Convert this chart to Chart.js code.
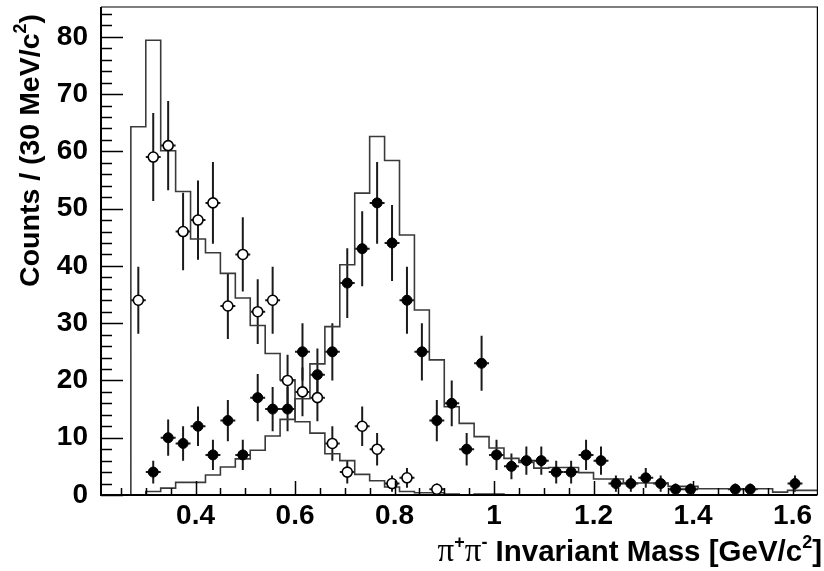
<!DOCTYPE html>
<html>
<head>
<meta charset="utf-8">
<script src="https://cdn.jsdelivr.net/npm/chart.js@4/dist/chart.umd.min.js"></script>
<style>
  html, body { margin: 0; padding: 0; background: #fff; }
  canvas { display: block; }
</style>
</head>
<body>
<canvas id="mass" width="824" height="571"></canvas>
<script>
// π+π- invariant-mass spectrum, 30 MeV/c² bins starting at 0.27 GeV/c²
const binStart = 0.27;
const binWidth = 0.03;
const xRange = [0.21, 1.65];
const yRange = [0, 85.2];
const xTickValues = [0.4, 0.6, 0.8, 1.0, 1.2, 1.4, 1.6];
const yTickValues = [0, 10, 20, 30, 40, 50, 60, 70, 80];

// measured counts per bin (null = empty bin, no marker)
const openCounts = [34, 59, 61, 46, 48, 51, 33, 42, 32, 34, 20, 18, 17, 9, 4, 12, 8, 2, 3, null, 1];
const filledCounts = [null, 4, 10, 9, 12, 7, 13, 7, 17, 15, 15, 25, 21, 25, 37, 43, 51, 44, 34, 25,
  13, 16, 8, 23, 7, 5, 6, 6, 4, 4, 7, 6, 2, 2, 3, 2, 1, 1, null, null, 1, 1, null, null, 2];

// expected distributions drawn as step histograms
const openHist = [64.3, 79.4, 60.1, 53.0, 44.7, 42.3, 38.7, 34.4, 29.6, 24.7, 20.1, 12.8, 10.8, 7.2,
  6.0, 3.6, 2.5, 1.4, 0.6, 0.4, 0.4, 0.15, 0, 0.15, 0.15];
const filledHist = [0, 0.6, 1.2, 2.2, 2.2, 3.5, 4.9, 6.3, 7.8, 10.3, 13.2, 16.8, 22.9, 29.4, 40.2,
  52.7, 62.6, 58.4, 45.4, 32.3, 23.6, 15.4, 12.5, 10.2, 8.2, 6.4, 5.7, 4.7, 4.8, 4.8, 3.9, 2.8,
  2.8, 2.1, 2.1, 2.1, 1.5, 1.5, 1.1, 1.1, 1.1, 1.1, 1.1, 0.5, 0.8, 0.8];

const SANS = "'Liberation Sans', Arial, Helvetica, sans-serif";
const SERIF = "'Liberation Serif', 'Times New Roman', serif";

// bin edges with the bin's content; stepped 'before' holds each value across its bin
function stepPoints(vals, dropToZero) {
  const pts = [{ x: binStart, y: 0 }];
  vals.forEach((v, i) => pts.push({ x: binStart + i * binWidth, y: v }));
  const end = binStart + vals.length * binWidth;
  pts.push({ x: end, y: vals[vals.length - 1] });
  if (dropToZero) pts.push({ x: end, y: 0 });
  return pts;
}

function markerPoints(counts) {
  const pts = [];
  counts.forEach((n, i) => {
    if (n !== null) pts.push({ x: binStart + (i + 0.5) * binWidth, y: n });
  });
  return pts;
}

// Poisson error bars (±√N) and half-bin horizontal bars, drawn beneath the markers
const errorBars = {
  id: 'errorBars',
  beforeDatasetsDraw(chart) {
    const { ctx, chartArea, scales: { x, y } } = chart;
    ctx.save();
    ctx.beginPath();
    ctx.rect(chartArea.left, chartArea.top, chartArea.right - chartArea.left, chartArea.bottom - chartArea.top);
    ctx.clip();
    ctx.strokeStyle = '#1a1a1a';
    ctx.lineWidth = 2;
    chart.data.datasets.forEach(ds => {
      if (!ds.isMeasured) return;
      ds.data.forEach(p => {
        const err = Math.sqrt(p.y);
        const px = x.getPixelForValue(p.x);
        const py = y.getPixelForValue(p.y);
        ctx.beginPath();
        ctx.moveTo(px, y.getPixelForValue(p.y + err));
        ctx.lineTo(px, y.getPixelForValue(Math.max(0, p.y - err)));
        ctx.moveTo(x.getPixelForValue(p.x - binWidth / 2), py);
        ctx.lineTo(x.getPixelForValue(p.x + binWidth / 2), py);
        ctx.stroke();
      });
    });
    ctx.restore();
  }
};

function drawRich(ctx, parts, x, y, align) {
  let total = 0;
  parts.forEach(p => { ctx.font = p.font; total += ctx.measureText(p.t).width; });
  let cx = align === 'right' ? x - total : x;
  parts.forEach(p => {
    ctx.font = p.font;
    ctx.fillText(p.t, cx, y + (p.dy || 0));
    cx += ctx.measureText(p.t).width;
  });
}

// frame, inward tick marks and axis titles
const frameAndTitles = {
  id: 'frameAndTitles',
  afterDraw(chart) {
    const { ctx, chartArea: a, scales: { x, y } } = chart;
    ctx.save();
    ctx.strokeStyle = '#000';
    // thin top and right edges
    ctx.lineWidth = 1.2;
    ctx.beginPath();
    ctx.moveTo(a.left, a.top); ctx.lineTo(a.right, a.top); ctx.lineTo(a.right, a.bottom);
    ctx.stroke();
    // heavier axes
    ctx.lineWidth = 2;
    ctx.beginPath();
    ctx.moveTo(a.left, a.top); ctx.lineTo(a.left, a.bottom); ctx.lineTo(a.right, a.bottom);
    ctx.stroke();

    // x ticks: minor every 0.05, major at labelled values
    ctx.lineWidth = 1.5;
    ctx.beginPath();
    for (let i = 5; i <= 33; i++) {
      const v = i * 0.05;
      if (v < xRange[0] || v > xRange[1]) continue;
      const major = xTickValues.some(t => Math.abs(t - v) < 1e-6);
      const px = Math.round(x.getPixelForValue(v)) + 0.5;
      ctx.moveTo(px, a.bottom);
      ctx.lineTo(px, a.bottom - (major ? 14 : 7));
    }
    // y ticks: minor every 2, major every 10
    for (let v = 0; v <= yRange[1]; v += 2) {
      const major = v % 10 === 0;
      const py = Math.round(y.getPixelForValue(v)) + 0.5;
      ctx.moveTo(a.left, py);
      ctx.lineTo(a.left + (major ? 22 : 11), py);
    }
    ctx.stroke();

    ctx.fillStyle = '#000';
    ctx.textBaseline = 'alphabetic';
    // x title
    const bold = '700 29.5px ' + SANS;
    const sup = '700 18px ' + SANS;
    const pi = '400 33px ' + SERIF;
    drawRich(ctx, [
      { t: 'π', font: pi },
      { t: '+', font: sup, dy: -13 },
      { t: 'π', font: pi },
      { t: '-', font: sup, dy: -13 },
      { t: ' Invariant Mass [GeV/c', font: bold },
      { t: '2', font: sup, dy: -13 },
      { t: ']', font: bold }
    ], 822, 561, 'right');

    // y title (rotated)
    const boldY = '700 28.5px ' + SANS;
    ctx.translate(39, 14);
    ctx.rotate(-Math.PI / 2);
    drawRich(ctx, [
      { t: 'Counts / (30 MeV/c', font: boldY },
      { t: '2', font: sup, dy: -13 },
      { t: ')', font: boldY }
    ], 0, 0, 'right');
    ctx.restore();
  }
};

Chart.defaults.font.family = SANS;

new Chart(document.getElementById('mass'), {
  type: 'scatter',
  data: {
    datasets: [
      {
        label: 'open', isMeasured: true, order: 0,
        data: markerPoints(openCounts),
        pointStyle: 'circle', pointRadius: 5, pointBackgroundColor: '#fff',
        pointBorderColor: '#000', pointBorderWidth: 1.6, showLine: false
      },
      {
        label: 'filled', isMeasured: true, order: 0,
        data: markerPoints(filledCounts),
        pointStyle: 'circle', pointRadius: 5, pointBackgroundColor: '#000',
        pointBorderColor: '#000', pointBorderWidth: 1, showLine: false
      },
      {
        label: 'openHist', order: 1,
        data: stepPoints(openHist, true),
        showLine: true, stepped: 'before', borderColor: '#3a3a3a', borderWidth: 1.6,
        pointRadius: 0, fill: false
      },
      {
        label: 'filledHist', order: 1,
        data: stepPoints(filledHist, false),
        showLine: true, stepped: 'before', borderColor: '#3a3a3a', borderWidth: 1.6,
        pointRadius: 0, fill: false
      }
    ]
  },
  options: {
    responsive: false,
    animation: false,
    events: [],
    layout: { padding: { top: 7, right: 4, left: 0, bottom: 0 } },
    plugins: { legend: { display: false }, tooltip: { enabled: false } },
    scales: {
      x: {
        type: 'linear', min: xRange[0], max: xRange[1],
        afterBuildTicks: s => { s.ticks = xTickValues.map(v => ({ value: v })); },
        afterFit: s => { s.height = 76; s.paddingLeft = 0; s.paddingRight = 0; },
        grid: { display: false, drawTicks: false },
        border: { display: false },
        ticks: {
          color: '#000', padding: 4, maxRotation: 0, autoSkip: false,
          font: { size: 28, weight: '700', family: SANS },
          callback: v => String(Math.round(v * 10) / 10)
        }
      },
      y: {
        type: 'linear', min: yRange[0], max: yRange[1],
        afterBuildTicks: s => { s.ticks = yTickValues.map(v => ({ value: v })); },
        afterFit: s => { s.width = 101; s.paddingTop = 0; s.paddingBottom = 0; },
        grid: { display: false, drawTicks: false },
        border: { display: false },
        ticks: {
          color: '#000', padding: 13, autoSkip: false,
          font: { size: 28, weight: '700', family: SANS },
          callback: v => String(v)
        }
      }
    }
  },
  plugins: [errorBars, frameAndTitles]
});
</script>
</body>
</html>
